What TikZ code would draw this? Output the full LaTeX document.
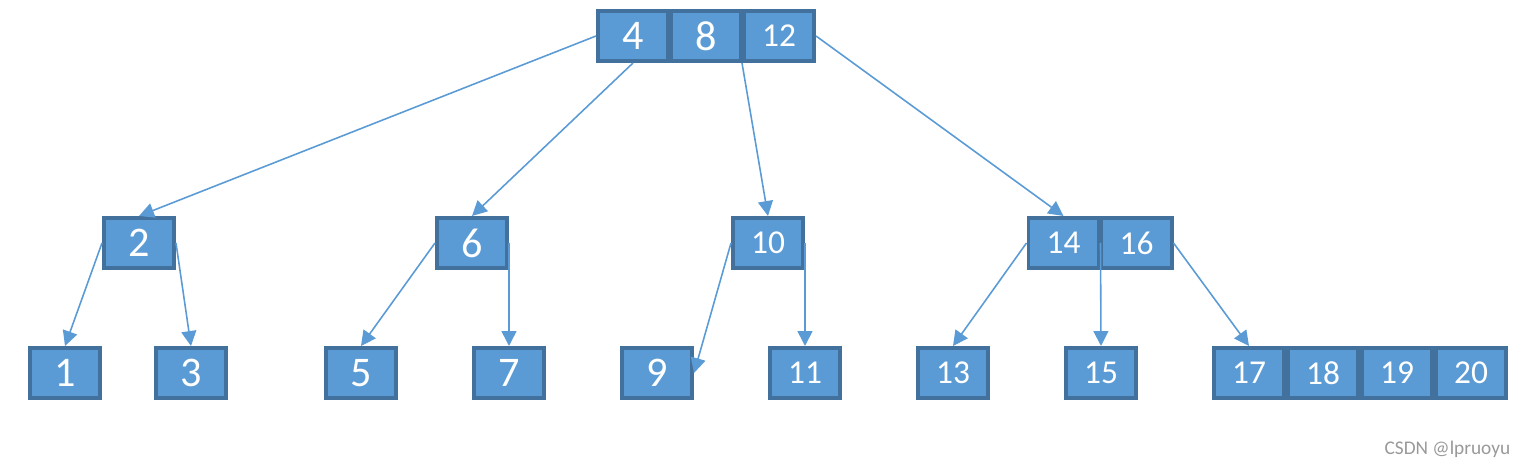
\documentclass[tikz,border=0pt]{standalone}
\usepackage{fontspec}
\setmainfont{Carlito}
\usepackage{tikz}
\usepackage{xcolor}
\usetikzlibrary{arrows.meta,positioning}
\definecolor{keyfill}{HTML}{5B9BD5}
\definecolor{keyline}{HTML}{41719C}

\begin{document}
\begin{tikzpicture}
  [x=0.02cm,y=-0.02cm,
   every node/.style={rectangle,fill=keyfill,draw=keyline,line width=2pt,
     minimum width=1.41cm,minimum height=1.01cm,inner sep=0pt,text=white},
   big/.style={font=\fontsize{24}{24}\selectfont},
   small/.style={font=\fontsize{19}{19}\selectfont},
   link/.style={draw=keyfill,line width=0.9pt,-{Triangle[length=8.5pt,width=8.5pt]}}]
  \useasboundingbox (0,0) rectangle (1526,469);
  % root
  \node[big] (n4) at (633,36) {4};
  \node[big] (n8) at (706,36) {8};
  \node[small] (n12) at (779,36) {12};
  % middle level
  \node[big] (n2) at (139,243) {2};
  \node[big] (n6) at (472,243) {6};
  \node[small] (n10) at (768,243) {10};
  \node[small] (n14) at (1063.5,243) {14};
  \node[small] (n16) at (1136.5,243) {16};
  % leaves
  \node[big] (n1) at (65,373) {1};
  \node[big] (n3) at (191,373) {3};
  \node[big] (n5) at (361,373) {5};
  \node[big] (n7) at (509,373) {7};
  \node[big] (n9) at (657,373) {9};
  \node[small] (n11) at (805,373) {11};
  \node[small] (n13) at (953,373) {13};
  \node[small] (n15) at (1101,373) {15};
  \node[small] (n17) at (1249,373) {17};
  \node[small] (n18) at (1323,373) {18};
  \node[small] (n19) at (1397,373) {19};
  \node[small] (n20) at (1471,373) {20};
\foreach \from/\to in {n4.west/n2.north,n4.south/n6.north,n12.south west/n10.north,
    n12.east/n14.north,n2.west/n1.north,n2.east/n3.north,n6.west/n5.north,
    n6.east/n7.north,n10.west/n9.east,n10.east/n11.north,n14.west/n13.north,
    n14.east/n15.north,n16.east/n17.north}
    \draw[link] (\from) -- (\to);
  \node[fill=none,draw=none,minimum width=0pt,minimum height=0pt,text=gray!80,
    font=\fontsize{11}{11}\selectfont,anchor=east] (mark) at (1512,449) {CSDN @lpruoyu};

\end{tikzpicture}
\end{document}
